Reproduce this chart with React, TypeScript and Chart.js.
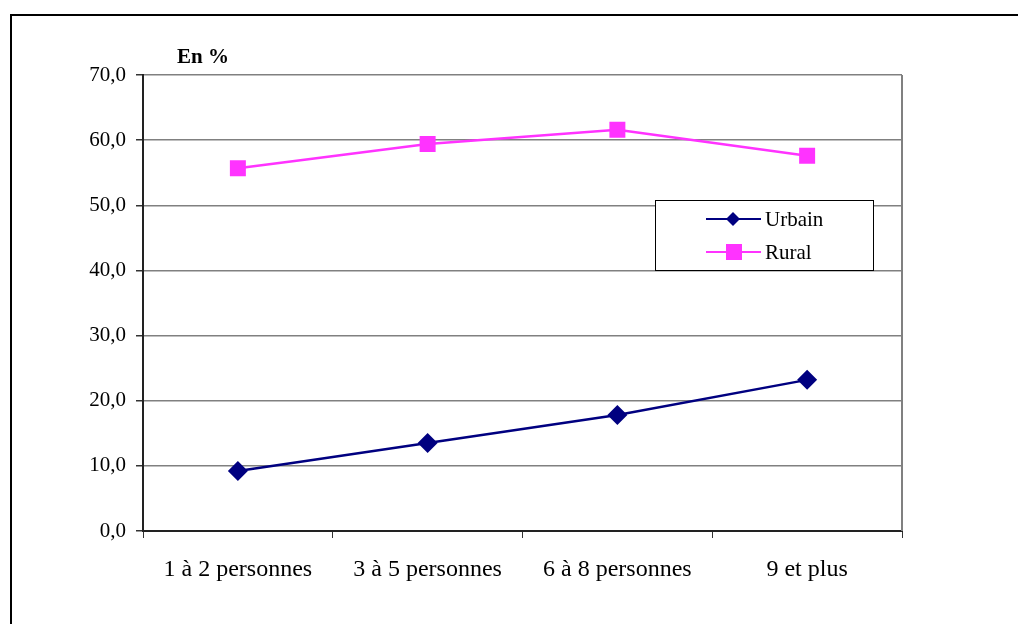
import React, { useEffect, useRef } from "react";
import { Chart, registerables } from "chart.js";

Chart.register(...registerables);

const categories = ["1 à 2 personnes", "3 à 5 personnes", "6 à 8 personnes", "9 et plus"];
const urbain = [9.2, 13.5, 17.8, 23.2];
const rural = [55.7, 59.4, 61.6, 57.6];
const yTitle = "En %";

const FONT = "'Liberation Serif', 'Times New Roman', serif";

const decorPlugin = {
  id: "decor",
  afterDraw(chart: any) {
    const ctx = chart.ctx;
    const a = chart.chartArea;
    ctx.save();
    // right border of plot area
    ctx.strokeStyle = "#808080";
    ctx.lineWidth = 2;
    ctx.beginPath();
    ctx.moveTo(a.right, a.top);
    ctx.lineTo(a.right, a.bottom);
    ctx.stroke();
    // y title
    ctx.fillStyle = "#000";
    ctx.font = `bold 21px ${FONT}`;
    ctx.textAlign = "left";
    ctx.textBaseline = "middle";
    ctx.fillText(yTitle, 177, 58);
    // legend box
    const bx = 655, by = 200, bw = 218, bh = 70;
    ctx.fillStyle = "#fff";
    ctx.fillRect(bx, by, bw, bh);
    ctx.strokeStyle = "#000";
    ctx.lineWidth = 1;
    ctx.strokeRect(bx + 0.5, by + 0.5, bw, bh);
    const items = [
      { label: "Urbain", color: "#000080", style: "diamond", y: 219 },
      { label: "Rural", color: "#FF33FF", style: "square", y: 252 },
    ];
    for (const it of items) {
      ctx.strokeStyle = it.color;
      ctx.lineWidth = 2;
      ctx.beginPath();
      ctx.moveTo(706, it.y);
      ctx.lineTo(761, it.y);
      ctx.stroke();
      ctx.fillStyle = it.color;
      if (it.style === "diamond") {
        ctx.beginPath();
        ctx.moveTo(733, it.y - 7);
        ctx.lineTo(740, it.y);
        ctx.lineTo(733, it.y + 7);
        ctx.lineTo(726, it.y);
        ctx.closePath();
        ctx.fill();
      } else {
        ctx.fillRect(726, it.y - 8, 16, 16);
      }
      ctx.fillStyle = "#000";
      ctx.font = `21px ${FONT}`;
      ctx.textAlign = "left";
      ctx.textBaseline = "middle";
      ctx.fillText(it.label, 765, it.y + 1);
    }
    ctx.restore();
  },
};

export default function App() {
  const ref = useRef<HTMLCanvasElement>(null);
  useEffect(() => {
    const chart = new Chart(ref.current!, {
      type: "line",
      data: {
        labels: categories,
        datasets: [
          {
            label: "Urbain",
            data: urbain,
            borderColor: "#000080",
            backgroundColor: "#000080",
            borderWidth: 2.5,
            pointStyle: "rectRot",
            pointRadius: 10,
            pointBorderWidth: 0,
            tension: 0,
          },
          {
            label: "Rural",
            data: rural,
            borderColor: "#FF33FF",
            backgroundColor: "#FF33FF",
            borderWidth: 2.5,
            pointStyle: "rect",
            pointRadius: 11.3,
            pointBorderWidth: 0,
            tension: 0,
          },
        ],
      },
      options: {
        animation: false,
        responsive: false,
        layout: { padding: { left: 0, top: 75, right: 116, bottom: 0 } },
        plugins: { legend: { display: false }, tooltip: { enabled: false }, title: { display: false } },
        scales: {
          x: {
            offset: true,
            grid: {
              offset: true,
              drawOnChartArea: false,
              drawTicks: true,
              tickLength: 7,
              color: "#333",
              lineWidth: 1,
            },
            border: { color: "#222", width: 2 },
            ticks: { color: "#000", font: { family: FONT, size: 24 }, padding: 17, maxRotation: 0 },
            afterFit(scale: any) {
              scale.height = 624 - 531;
            },
          },
          y: {
            min: 0,
            max: 70,
            ticks: {
              stepSize: 10,
              color: "#000",
              font: { family: FONT, size: 21 },
              padding: 10,
              callback: (v: any) => Number(v).toFixed(1).replace(".", ","),
            },
            grid: { color: "#808080", lineWidth: 1.5, tickLength: 7, tickColor: "#333" },
            border: { color: "#222", width: 2 },
            afterFit(scale: any) {
              scale.width = 143;
            },
          },
        },
      },
      plugins: [decorPlugin],
    });
    return () => chart.destroy();
  }, []);
  return (
    <div style={{ position: "fixed", left: 0, top: 0, width: 1018, height: 624, overflow: "hidden", background: "#fff" }}>
      <canvas ref={ref} width={1018} height={624} style={{ position: "absolute", left: 0, top: 0 }} />
      <div
        style={{
          position: "absolute",
          left: 10,
          top: 14,
          width: 1100,
          height: 700,
          border: "2px solid #000",
          boxSizing: "border-box",
          pointerEvents: "none",
        }}
      />
    </div>
  );
}
